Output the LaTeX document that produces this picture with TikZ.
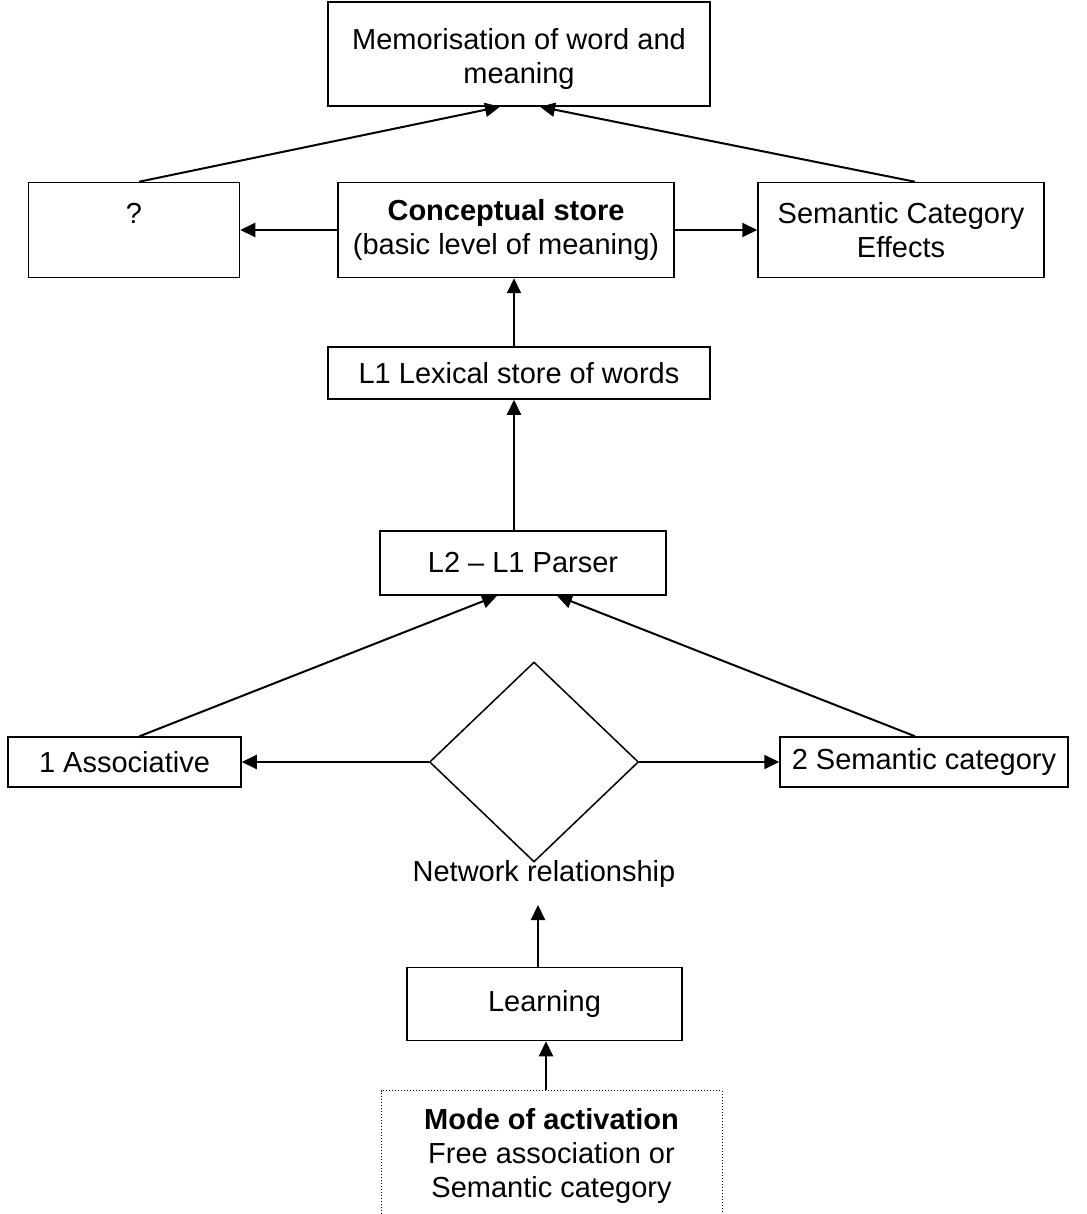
\documentclass[tikz,border=0pt]{standalone}
\usepackage{fontspec}
\setmainfont{Liberation Sans}
\usetikzlibrary{shapes.geometric, arrows.meta}
\newcommand{\bodyfont}{\fontsize{29}{34}\selectfont}

\begin{document}
\begin{tikzpicture}[
                x=1pt, y=-1pt,
                box/.style={
                    draw,
                    line width=1.5pt,
                    align=center,
                    inner sep=0pt,
                    font=\bodyfont,
                },
                >={Triangle[length=15pt,width=14pt]},
                link/.style={->, line width=2pt},
            ]
            \useasboundingbox (0,0) rectangle (1086,1214);

            % top row
            \node [box, minimum width=382pt, minimum height=104pt] (mem) at (519,54)
                {\rule{0pt}{32pt}Memorisation of word and\\meaning};
            \node [box, minimum width=211pt, minimum height=95pt] (quest) at (134,230)
                {?\\~};
            \node [box, minimum width=336pt, minimum height=95pt] (concept) at (506,230)
                {\textbf{Conceptual store}\\(basic level of meaning)};
            \node [box, minimum width=286pt, minimum height=95pt] (semeff) at (901,230)
                {Semantic Category\\Effects};

            % middle column
            \node [box, minimum width=382pt, minimum height=52pt] (lexical) at (519,373)
                {L1 Lexical store of words};
            \node [box, minimum width=286pt, minimum height=64pt] (parser) at (523,563)
                {L2 -- L1 Parser};

            % network row
            \node [box, minimum width=233pt, minimum height=50pt] (assoc) at (124.5,762)
                {1 Associative};
            \node [box, minimum width=288pt, minimum height=50pt] (semcat) at (924,762)
                {2 Semantic category};
            \node [diamond, draw, line width=1.5pt, inner sep=0pt,
                   minimum width=209pt, minimum height=200pt] (network) at (534,762) {};
            \node [font=\bodyfont, inner sep=0pt] (netlabel) at (544,874) {Network relationship};
            \coordinate (netin) at (538,905);

            % bottom
            \node [box, minimum width=275pt, minimum height=73pt] (learning) at (544.5,1004)
                {Learning};
            \node [box, line width=1pt, dotted, minimum width=341pt, inner ysep=18pt,
                   anchor=north] (mode) at (551.5,1090)
                {\textbf{Mode of activation}\\Free association or\\Semantic category};

            % connectors
            \draw [link] ([xshift=5pt]quest.north) -- ([xshift=-19pt]mem.south);
            \draw [link] ([xshift=14pt]semeff.north) -- ([xshift=21pt]mem.south);
            \draw [link] (concept.west) -- (quest.east);
            \draw [link] (concept.east) -- (semeff.west);
            \draw [link] ([xshift=-5pt]lexical.north) -- ([xshift=-5pt]lexical.north |- concept.south);
            \draw [link] ([xshift=-9pt]parser.north) -- ([xshift=-9pt]parser.north |- lexical.south);
            \draw [link] ([xshift=15pt]assoc.north) -- ([xshift=-26pt]parser.south);
            \draw [link] ([xshift=-9pt]semcat.north) -- ([xshift=34pt]parser.south);
            \draw [link] (network.west) -- (assoc.east);
            \draw [link] (network.east) -- (semcat.west);
            \draw [link] (learning.north -| netin) -- (netin);
            \draw [link] (mode.north -| 546,0) -- (learning.south -| 546,0);
        \end{tikzpicture}
\end{document}
